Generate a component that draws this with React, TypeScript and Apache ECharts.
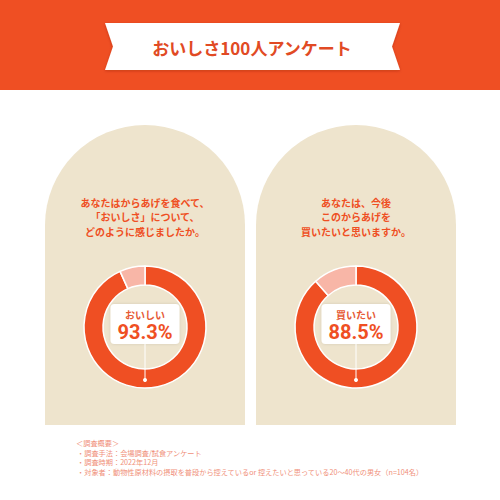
import React, { useEffect, useRef } from "react";
import * as echarts from "echarts";

const titleText = "おいしさ100人アンケート";
const questions = [
  ["あなたはからあげを食べて、", "「おいしさ」について、", "どのように感じましたか。"],
  ["あなたは、今後", "このからあげを", "買いたいと思いますか。"],
];
const answerNames = ["おいしい", "買いたい"];
const answerValues = [93.3, 88.5];
const restValues = [6.7, 11.5];
const notes = [
  "＜調査概要＞",
  "・調査手法：会場調査/試食アンケート",
  "・調査時期：2022年12月",
  "・対象者：動物性原材料の摂取を普段から控えているor 控えたいと思っている20〜40代の男女（n=104名）",
];

const FONT = "'Noto Sans CJK JP', 'Noto Sans', sans-serif";
const ORANGE = "#EF4F23";
const PINK = "#F8B6A7";
const CREAM = "#EEE4CD";

function App() {
  const chartRef = useRef<HTMLDivElement>(null);

  useEffect(() => {
    if (!chartRef.current) return undefined;
    const chart = echarts.init(chartRef.current, undefined, { renderer: "svg" });

    const centersX = [145, 356];
    const centerY = 327;

    const panels: any[] = [];
    centersX.forEach((cx, i) => {
      panels.push({
        type: "rect",
        z: 0,
        shape: { x: cx - 100, y: 125, width: 200, height: 300, r: [100, 100, 0, 0] },
        style: { fill: CREAM },
      });
      questions[i].forEach((line, j) => {
        panels.push({
          type: "text",
          z: 1,
          x: cx,
          y: 202 + j * 14.5,
          style: {
            text: line,
            fill: ORANGE,
            font: `bold 10px ${FONT}`,
            align: "center",
            verticalAlign: "middle",
          },
        });
      });
      panels.push({
        type: "line",
        z: 5,
        shape: { x1: cx, y1: 340, x2: cx, y2: 380 },
        style: { stroke: "#ffffff", lineWidth: 1 },
      });
      panels.push({
        type: "circle",
        z: 5,
        shape: { cx, cy: 380, r: 2 },
        style: { fill: "#ffffff" },
      });
    });

    const options: echarts.EChartsOption = {
      animation: false,
      backgroundColor: "#ffffff",
      graphic: {
        elements: [
          {
            type: "rect",
            z: 0,
            shape: { x: 0, y: 0, width: 500, height: 90 },
            style: { fill: ORANGE },
          },
          {
            type: "polygon",
            z: 1,
            shape: {
              points: [
                [105, 23],
                [400, 23],
                [392, 46.5],
                [400, 70],
                [105, 70],
                [113, 46.5],
              ],
            },
            style: {
              fill: "#ffffff",
              shadowBlur: 3,
              shadowOffsetY: 1,
              shadowColor: "rgba(120,30,0,0.35)",
            },
          },
          {
            type: "text",
            z: 2,
            x: 252,
            y: 47,
            style: {
              text: titleText,
              fill: "#E14A24",
              font: `bold 17px ${FONT}`,
              align: "center",
              verticalAlign: "middle",
            },
          },
          ...panels,
          ...notes.map((t, i) => ({
            type: "text",
            z: 1,
            x: i === 0 ? 76 : 77,
            y: 443 + i * 9.6,
            style: {
              text: t,
              fill: "#F0907A",
              font: `7.2px ${FONT}`,
              align: "left",
              verticalAlign: "middle",
            },
          })),
        ],
      },
      series: centersX.map((cx, i) => ({
        type: "pie",
        center: [cx, centerY],
        radius: [42, 61],
        startAngle: 90,
        clockwise: true,
        silent: true,
        z: 3,
        emphasis: { disabled: true },
        itemStyle: { borderColor: "#ffffff", borderWidth: 1.5 },
        label: { show: false },
        labelLine: { show: false },
        data: [
          {
            name: answerNames[i],
            value: answerValues[i],
            itemStyle: { color: ORANGE },
            label: {
              show: true,
              position: "center",
              offset: [0, -3],
              formatter: (p: any) => `{n|${p.name}}\n{v|${p.value}%}`,
              backgroundColor: "#ffffff",
              borderRadius: 4,
              padding: [3, 7, 1, 7],
              shadowBlur: 3,
              shadowColor: "rgba(0,0,0,0.12)",
              rich: {
                n: {
                  fontFamily: FONT,
                  fontSize: 10,
                  fontWeight: "bold",
                  color: "#E65A35",
                  lineHeight: 14,
                  align: "center",
                },
                v: {
                  fontFamily: "Roboto, " + FONT,
                  fontSize: 20,
                  fontWeight: "bold",
                  color: ORANGE,
                  lineHeight: 22,
                  align: "center",
                },
              },
            },
          },
          {
            name: "その他",
            value: restValues[i],
            itemStyle: { color: PINK },
          },
        ],
      })) as any,
    };
    chart.setOption(options);
    return () => {
      chart.dispose();
    };
  }, []);

  return (
    <div
      ref={chartRef}
      style={{ position: "absolute", left: 0, top: 0, width: "500px", height: "500px" }}
    />
  );
}

export default App;
